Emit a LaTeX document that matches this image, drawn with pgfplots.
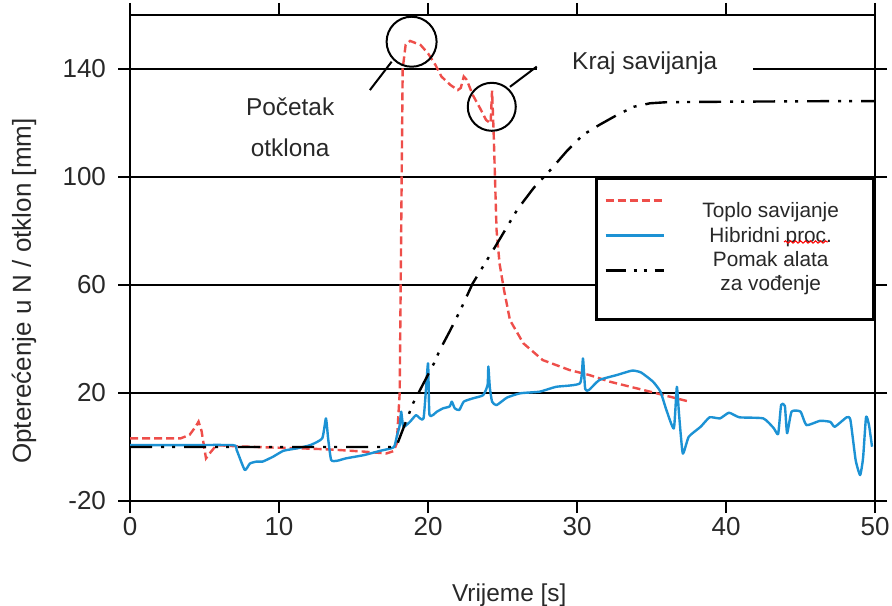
\documentclass[border=0pt]{standalone}
\usepackage{fontspec}
\setmainfont{Liberation Sans}
\usepackage{pgfplots}
\pgfplotsset{compat=1.18}
\usepackage{pgfplotstable}
\usetikzlibrary{decorations.pathmorphing}

\definecolor{toplo}{RGB}{238,78,74}
\definecolor{hibrid}{RGB}{28,146,212}
\definecolor{tekst}{RGB}{40,40,40}

% Toplo savijanje (x = s, y = N)
\pgfplotstableread{
x y
0 3.2
2 3.2
3.4 3.2
4.0 4.5
4.4 7.5
4.6 9.4
4.8 6
5.1 -4.2
5.4 -2
5.8 0.7
7 0.3
9 -0.1
12 -0.6
13.4 -0.9
15.7 -1.7
17.2 -2.4
17.7 -1.5
17.9 1.3
18.1 20
18.2 80
18.3 140
18.5 149
18.8 150.4
19.5 148.9
20.0 145.8
20.5 141.5
20.9 137.2
21.5 134.1
22.0 132.2
22.2 133
22.4 137.2
22.6 136
23.0 130.4
23.5 125.4
23.9 121.1
24.2 119.9
24.3 132
24.4 117.4
24.5 99
24.6 80.4
24.8 68
25.1 58.2
25.5 47
26.4 38.4
27.7 32.2
29.5 28.5
30.8 26.7
32.2 24.2
34.9 20.5
37.4 17.0
}\toplo

% Hibridni proces
\pgfplotstableread{
x y
0 0.7
3 0.7
6.9 0.7
7.15 -1
7.7 -8.5
8.05 -6.1
8.5 -5.4
8.9 -5.4
9.6 -3.6
10.3 -1.4
11.2 -0.5
12.1 0.7
12.9 3.2
13.15 10.6
13.3 3
13.5 -4.8
13.9 -5.1
14.5 -4.2
15.7 -3
16.8 -1.4
17.7 -0.1
17.9 3.8
18.1 8
18.2 13.1
18.35 7.5
18.8 9.4
19.2 11.8
19.7 10.6
20.0 31
20.1 11.9
20.6 13.1
21.0 14.3
21.45 15
21.6 16.8
21.8 14.3
22.1 13.7
22.4 16.8
23.0 18
23.7 19.2
24.0 23
24.05 29.8
24.15 22
24.3 16.8
24.6 15.5
25.3 18.3
26.2 19.9
27.5 20.5
28.6 22.3
30.2 23.6
30.4 32.8
30.55 21.5
30.8 21.1
31.5 24.8
32.7 26.7
33.7 28.3
34.3 27.6
35.1 24.2
35.6 20.5
36.0 13.7
36.5 6.9
36.7 22.3
36.85 12
37.1 -2.4
37.5 3.8
38.3 7.5
38.9 11
39.6 10.6
40.2 12.7
40.9 11
42.5 10.6
43.2 7
43.5 4.8
43.7 15.6
43.95 15.2
44.1 5.1
44.4 13.1
45.0 13.1
45.4 8.1
46.3 9.7
47.0 9.3
47.3 7.5
48.1 11
48.35 10
48.7 -4.8
49.0 -10.4
49.2 -4
49.4 11.2
49.6 8
49.8 0.1
}\hibrid

% Pomak alata za vodjenje (mm)
\pgfplotstableread{
x y
0 0
5 0
10 0
15 0
17.5 0
17.9 0.5
18.3 6.3
19.0 16.2
19.7 23.6
20.4 31
20.8 36
21.5 43.3
22.2 51
23.0 60.6
24.6 75
26.0 88
27.1 96
28.2 102.5
29.3 109.5
30.4 115.6
31.5 119.3
32.7 123
33.8 126
34.9 127.3
36.0 127.7
40.5 127.9
47.2 128.1
50 128.1
}\pomak

\newcommand\fb{\fontsize{12.2}{14}\selectfont}
\newcommand\ft{\fontsize{13}{15}\selectfont}
\newcommand\fl{\fontsize{10.4}{11.75}\selectfont}

\begin{document}
\begin{tikzpicture}
\begin{axis}[
  scale only axis,
  width=372.5pt, height=243pt,
  xmin=0, xmax=50, ymin=-20, ymax=160,
  xtick={0,10,...,50},
  ytick={-20,20,60,100,140},
  ymajorgrids,
  grid style={black, line width=1.3pt},
  axis line style={black, line width=1.3pt},
  tick style={black, line width=1.3pt},
  tick align=outside,
  major tick length=6pt,
  tick label style={font=\ft, text=tekst},
  yticklabel style={xshift=-2.5pt},
  xticklabel style={yshift=1.5pt},
  /pgf/number format/assume math mode=true,
  xlabel={Vrijeme [s]},
  ylabel={Opterećenje u N / otklon [mm]},
  every axis x label/.style={at={(rel axis cs:0.509,0)}, yshift=-47pt, anchor=center, font=\fb, text=tekst},
  every axis y label/.style={at={(rel axis cs:0,0.432)}, xshift=-53pt, rotate=90, anchor=center, font=\ft, text=tekst},
  legend style={
    at={(rel axis cs:1,0.6667)}, anchor=north east,
    draw=black, line width=1.3pt, fill=white,
    font=\fl, text=tekst,
    inner xsep=4pt, inner ysep=2.5pt,
    row sep=0.3pt, column sep=5.5pt,
    nodes={inner sep=0pt},
    cells={anchor=center},
  },
  legend image code/.code={\draw[#1] (0pt,0pt) -- (29pt,0pt); \path (0pt,-8pt) (29pt,8pt);},
  clip=false,
]
\addplot[toplo, line width=1.2pt, dash pattern=on 4pt off 2pt] table {\toplo};
\addlegendentry{\raisebox{-9.1pt}[0pt][0pt]{\parbox{95pt}{\centering Toplo savijanje}}}
\addplot[hibrid, line width=1.2pt, line join=round, smooth, tension=0.3] table {\hibrid};
\addlegendentry{\raisebox{-4.1pt}[0pt][0pt]{\parbox{95pt}{\centering Hibridni proc.}}}
\addplot[black, line width=1.2pt, dash pattern=on 11pt off 4.5pt on 1.5pt off 4pt on 1.5pt off 4.5pt,
  legend image code/.code={\draw[black, line width=1.2pt, dash pattern=on 10pt off 4pt on 1.5pt off 3.5pt on 1.5pt off 4pt] (0pt,0pt) -- (29pt,0pt); \path (0pt,8pt) (29pt,-21.5pt);}] table {\pomak};
\addlegendentry{\raisebox{-4.6pt}[0pt][0pt]{\parbox{95pt}{\centering Pomak alata\\za vođenje}}}

\node[fill=white, minimum width=108pt, minimum height=14pt, font=\fb, text=tekst, yshift=3pt] at (axis cs:34.55,140) {Kraj savijanja};
\node[font=\fb, text=tekst] at (axis cs:10.75,125.9) {Početak};
\node[font=\fb, text=tekst] at (axis cs:10.75,110.7) {otklona};
\draw[black, line width=1pt] (axis cs:18.9,150.1) circle[radius=12.5pt];
\draw[black, line width=1pt] (axis cs:24.28,126) circle[radius=12pt];
\draw[black, line width=1pt] (axis cs:17.56,142.7) -- (axis cs:16.1,132.2);
\draw[black, line width=1pt] (axis cs:25.5,133.4) -- (axis cs:27.3,140.9);

\coordinate (SW) at (rel axis cs:0,0);
\coordinate (NE) at (rel axis cs:1,1);
\end{axis}
\draw[red, line width=0.5pt, decorate, decoration={snake, amplitude=0.6pt, segment length=2.5pt}]
  ([shift={(327pt,129.5pt)}]SW) -- ([shift={(349pt,129.5pt)}]SW);
\pgfresetboundingbox
\path[use as bounding box] ([shift={(-65pt,-52pt)}]SW) rectangle ([shift={(8.5pt,7.5pt)}]NE);
\end{tikzpicture}
\end{document}
